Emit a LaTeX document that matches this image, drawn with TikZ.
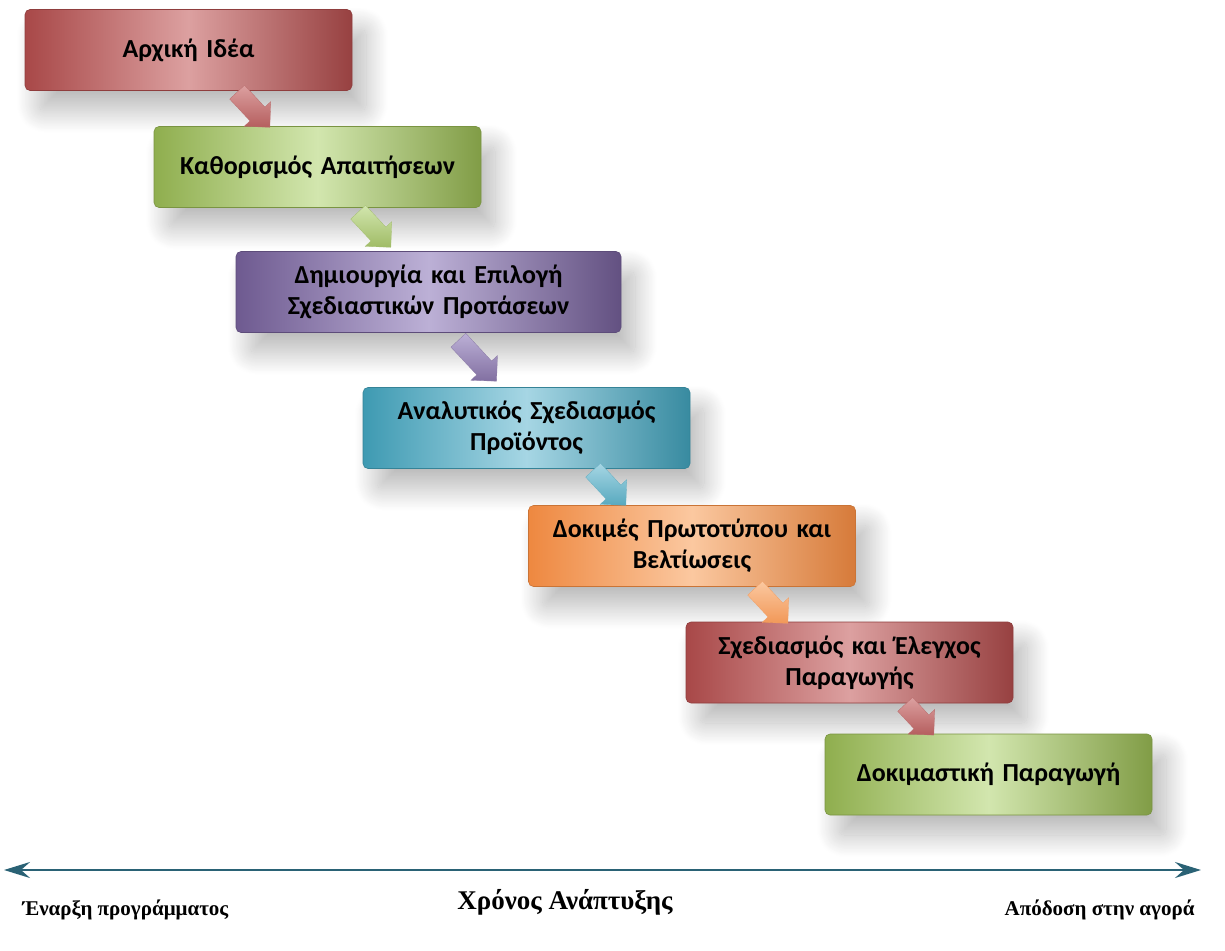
\documentclass[tikz,border=0pt]{standalone}
\usepackage{fontspec}
\setmainfont{Liberation Serif}
\newfontfamily\boxfont{Carlito}
\usetikzlibrary{shapes.arrows,shadows.blur,arrows.meta}
\definecolor{rD}{HTML}{A84848}\definecolor{rL}{HTML}{DCA0A0}
\definecolor{gD}{HTML}{8FAE4E}\definecolor{gL}{HTML}{D2E6AE}
\definecolor{pD}{HTML}{6E5A90}\definecolor{pL}{HTML}{BCB0D6}
\definecolor{tD}{HTML}{3E9AB2}\definecolor{tL}{HTML}{A6D6E4}
\definecolor{oD}{HTML}{EE8840}\definecolor{oL}{HTML}{FBC8A0}
\definecolor{axis}{HTML}{2A6275}
\tikzset{
  stagebox/.style 2 args={rectangle, rounded corners=5pt, minimum width=327pt, minimum height=81pt,
    draw=#1!85!black, line width=0.6pt, shading=axis, shading angle=65,
    left color=#1, right color=#1!90!black, middle color=#2,
    blur shadow={shadow xshift=14pt, shadow yshift=-20pt, shadow blur radius=22pt, shadow opacity=28, shadow blur steps=30},
    text width=315pt, align=center, font=\boxfont\bfseries\fontsize{26}{31}\selectfont},
  blockarrow/.style 2 args={single arrow, minimum height=48pt, single arrow head extend=8pt,
    single arrow head indent=0pt, inner sep=10pt, rotate=-47, draw=#1!80, line width=0.3pt,
    shading=axis, shading angle=-47, top color=#2, bottom color=#1!75!#2},
  lbl/.style={font=\bfseries\fontsize{21}{24}\selectfont}
}
\begin{document}
\begin{tikzpicture}[x=1pt,y=-1pt]
\useasboundingbox (0,0) rectangle (1225,950);
\node[stagebox={rD}{rL}] (b1) at (188.5,50) {Αρχική Ιδέα};
\node[stagebox={gD}{gL}] (b2) at (317.5,167) {Καθορισμός Απαιτήσεων};
\node[stagebox={pD}{pL}, minimum width=385pt, text width=370pt] (b3) at (428.5,292) {Δημιουργία και Επιλογή\\Σχεδιαστικών Προτάσεων};
\node[stagebox={tD}{tL}] (b4) at (526.5,428) {Αναλυτικός Σχεδιασμός\\Προϊόντος};
\node[stagebox={oD}{oL}] (b5) at (692,546) {Δοκιμές Πρωτοτύπου και\\Βελτίωσεις};
\node[stagebox={rD}{rL}] (b6) at (849.5,662.5) {Σχεδιασμός και Έλεγχος\\Παραγωγής};
\node[stagebox={gD}{gL}] (b7) at (988.5,774.5) {Δοκιμαστική Παραγωγή};
\node[blockarrow={rD}{rL}] (a1) at (250,106) {};
\node[blockarrow={gD}{gL}] (a2) at (371,226) {};
\node[blockarrow={pD}{pL}, minimum height=56pt] (a3) at (474,357) {};
\node[blockarrow={tD}{tL}] (a4) at (606,484) {};
\node[blockarrow={oD}{oL}] (a5) at (768,602) {};
\node[blockarrow={rD}{rL}, minimum height=42pt] (a6) at (916,716) {};
\coordinate (s) at (4,870);
\coordinate (e) at (1201,870);
\draw[axis, line width=2.5pt, {Stealth[length=26pt,width=16pt,inset=9pt]}-{Stealth[length=26pt,width=16pt,inset=9pt]}] (s) -- (e);
\node[font=\bfseries\fontsize{27}{30}\selectfont] (t) at (565,902) {Χρόνος Ανάπτυξης};
\node[lbl, anchor=west] (l) at (19,910) {Έναρξη προγράμματος};
\node[lbl, anchor=east] (r) at (1198,910) {Απόδοση στην αγορά};
\end{tikzpicture}
\end{document}
